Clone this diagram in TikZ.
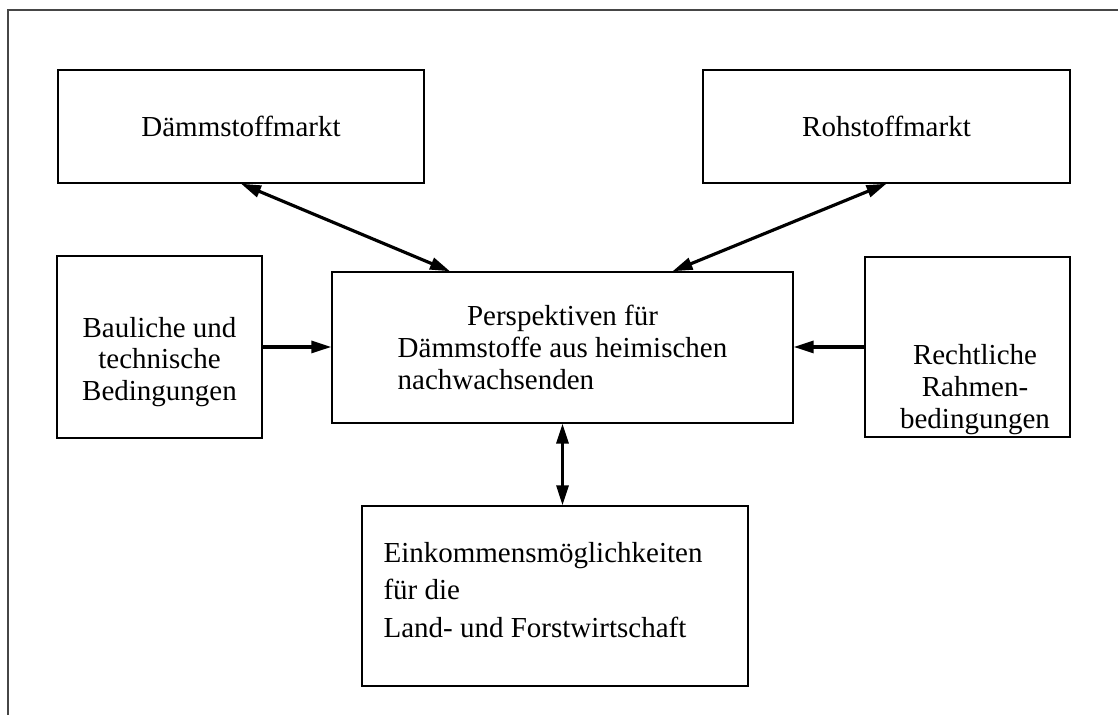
\documentclass[tikz,border=0pt]{standalone}
\usepackage{fontspec}
\setmainfont{Liberation Serif}
\usetikzlibrary{arrows.meta,positioning}
\definecolor{framegray}{RGB}{70,70,70}
\tikzset{
  kasten/.style={draw,line width=0.8pt,align=center,inner sep=0pt,font=\fontsize{16.5}{18}\selectfont},
  beschriftung/.style={inner sep=0pt,font=\fontsize{16.5}{18}\selectfont},
  pfeil/.style={line width=1.8pt,-{Triangle[length=0.4cm,width=0.24cm]}},
  doppelpfeil/.style={line width=1.8pt,{Triangle[length=0.4cm,width=0.24cm]}-{Triangle[length=0.4cm,width=0.24cm]}}
}

\begin{document}
\begin{tikzpicture}
\useasboundingbox (0,0) rectangle (22.36,14.3);
% Frame (top and left only)
\draw[framegray,line width=0.9pt] (0.16,0) -- (0.16,14.1) -- (22.36,14.1);
% Top row: markets
\node[kasten,minimum width=7.32cm,minimum height=2.26cm] (damm) at (4.82,11.77) {Dämmstoffmarkt};
\node[kasten,minimum width=7.34cm,minimum height=2.26cm] (roh) at (17.73,11.77) {Rohstoffmarkt};
% Middle row
\node[kasten,minimum width=9.22cm,minimum height=3.02cm] (mitte) at (11.25,7.35)
  {Perspektiven für\\Dämmstoffe aus heimischen\\\rlap{nachwachsenden}\phantom{Dämmstoffe aus heimischen}};
\node[kasten,minimum width=4.1cm,minimum height=3.64cm] (bau) at (3.19,7.36) {};
\node[beschriftung,align=center] (bau-txt) at ([yshift=-0.3cm]bau.center) {Bauliche und\\technische\\Bedingungen};
\node[kasten,minimum width=4.1cm,minimum height=3.6cm] (recht) at (19.35,7.36) {};
\node[beschriftung,align=center] (recht-txt) at ([xshift=0.15cm,yshift=-0.85cm]recht.center) {Rechtliche\\Rahmen-\\bedingungen};
% Bottom
\node[kasten,minimum width=7.72cm,minimum height=3.6cm] (eink) at (11.1,2.38) {};
\node[beschriftung,align=left,font=\fontsize{16.5}{21.5}\selectfont] (eink-txt) at ([xshift=-0.24cm,yshift=0.12cm]eink.center)
  {Einkommensmöglichkeiten\\für die\\Land- und Forstwirtschaft};
% Arrows
\draw[doppelpfeil] (damm.south) -- ([xshift=-2.25cm]mitte.north);
\draw[doppelpfeil] (roh.south) -- ([xshift=2.2cm]mitte.north);
\draw[pfeil] (bau.east) -- (bau.east -| mitte.west);
\draw[pfeil] (recht.west) -- (recht.west -| mitte.east);
\draw[doppelpfeil] (mitte.south) -- (mitte.south |- eink.north);
\end{tikzpicture}
\end{document}
